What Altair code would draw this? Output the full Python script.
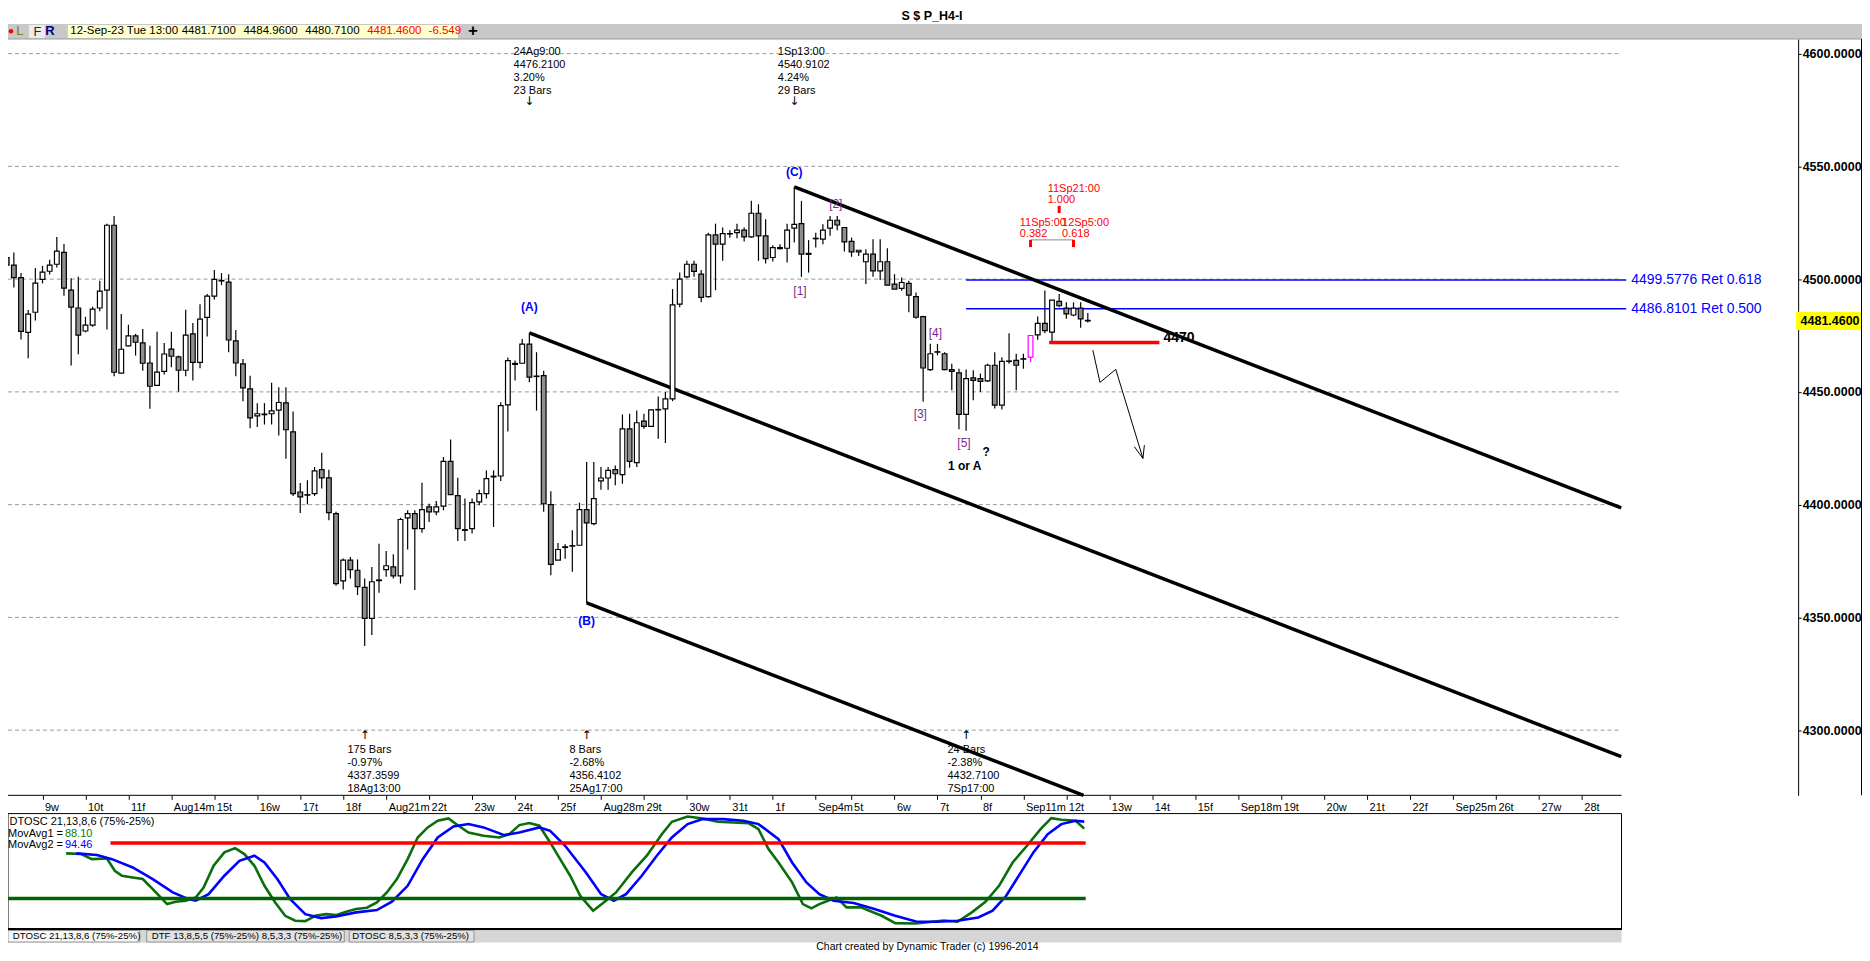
import altair as alt
import pandas as pd

FONT = "Liberation Sans"
W, H = 1858, 945

# ---------------- data ----------------
opens = [4509.6, 4506.2, 4500.7, 4476.4, 4485.3, 4499.9, 4503.5, 4506.6, 4511.9, 4495.1,
         4487.2, 4477.0, 4479.6, 4487.2, 4495.1, 4523.9, 4458.3, 4470.4, 4474.8, 4471.7,
         4462.8, 4452.9, 4459.1, 4469.0, 4465.5, 4459.6, 4475.7, 4463.1, 4483.0, 4492.5,
         4499.2, 4498.7, 4472.6, 4462.4, 4451.3, 4439.4, 4440.1, 4440.3, 4441.9, 4445.1,
         4432.3, 4405.6, 4404.2, 4404.9, 4415.5, 4411.9, 4396.0, 4366.2, 4375.4, 4370.9,
         4363.3, 4349.6, 4366.3, 4371.2, 4372.4, 4368.4, 4394.1, 4396.0, 4389.4, 4399.0,
         4396.8, 4399.3, 4419.2, 4404.0, 4388.6, 4389.4, 4401.2, 4404.9, 4412.3, 4412.7,
         4444.2, 4462.2, 4462.7, 4471.2, 4457.0, 4457.2, 4400.0, 4375.4, 4381.0, 4381.6,
         4382.0, 4397.8, 4391.6, 4410.5, 4411.8, 4415.5, 4413.3, 4433.6, 4418.6, 4437.0,
         4434.7, 4442.0, 4442.5, 4446.9, 4488.9, 4501.0, 4506.6, 4502.2, 4492.2, 4519.6,
         4515.5, 4520.0, 4520.6, 4521.7, 4518.7, 4529.2, 4519.2, 4509.6, 4513.5, 4513.7,
         4522.6, 4524.6, 4511.0, 4517.9, 4517.7, 4522.6, 4526.1, 4522.9, 4516.7, 4512.1,
         4507.7, 4511.1, 4503.7, 4507.7, 4497.8, 4495.9, 4498.1, 4492.2, 4483.4, 4459.9,
         4467.6, 4466.9, 4459.9, 4458.4, 4440.0, 4456.2, 4455.9, 4454.9, 4461.8, 4444.1,
         4463.5, 4464.0, 4464.5, 4465.4, 4475.3, 4480.4, 4476.5, 4490.1, 4487.1, 4484.1,
         4487.1, 4481.71]
highs = [4514.7, 4511.8, 4502.7, 4486.3, 4504.9, 4505.9, 4508.6, 4518.7, 4515.6, 4500.4,
         4501.0, 4483.3, 4487.8, 4499.3, 4524.5, 4528.0, 4484.5, 4479.8, 4475.7, 4477.9,
         4470.5, 4476.7, 4471.7, 4476.7, 4466.1, 4486.4, 4480.5, 4488.9, 4493.4, 4504.0,
         4502.7, 4502.2, 4477.4, 4464.6, 4457.2, 4445.0, 4445.0, 4454.0, 4452.1, 4452.1,
         4441.3, 4409.6, 4410.8, 4416.7, 4423.0, 4415.5, 4396.8, 4376.1, 4376.8, 4375.7,
         4367.3, 4372.4, 4382.7, 4379.4, 4378.0, 4394.2, 4397.5, 4397.5, 4409.7, 4400.4,
         4401.6, 4421.1, 4428.9, 4411.9, 4402.7, 4402.7, 4406.6, 4415.2, 4415.2, 4445.4,
         4465.3, 4463.9, 4473.5, 4476.21, 4467.6, 4459.4, 4405.9, 4383.0, 4382.4, 4388.6,
         4400.9, 4418.9, 4418.9, 4416.7, 4416.7, 4417.4, 4440.0, 4440.3, 4441.7, 4440.3,
         4442.2, 4447.9, 4449.9, 4495.6, 4502.9, 4508.1, 4508.1, 4504.0, 4520.6, 4524.6,
         4522.9, 4521.7, 4524.6, 4522.9, 4534.7, 4533.2, 4526.5, 4515.0, 4515.5, 4524.6,
         4540.91, 4534.7, 4517.3, 4520.6, 4524.3, 4528.0, 4528.0, 4522.9, 4518.4, 4512.8,
         4513.3, 4517.7, 4517.7, 4513.7, 4502.2, 4500.7, 4499.3, 4494.1, 4483.8, 4471.3,
         4471.3, 4467.6, 4462.5, 4460.3, 4459.9, 4459.6, 4458.1, 4462.5, 4467.6, 4465.4,
         4476.0, 4466.9, 4466.9, 4475.0, 4483.4, 4494.9, 4490.7, 4493.4, 4489.7, 4489.7,
         4489.7, 4484.96]
lows = [4505.5, 4496.3, 4473.2, 4464.9, 4481.6, 4498.1, 4502.1, 4505.2, 4492.6, 4461.7,
        4466.7, 4476.4, 4478.9, 4485.7, 4477.7, 4456.9, 4458.3, 4470.2, 4466.1, 4459.4,
        4442.5, 4452.9, 4457.7, 4460.9, 4450.1, 4456.9, 4455.0, 4460.5, 4474.6, 4491.0,
        4497.3, 4467.6, 4456.9, 4445.9, 4433.9, 4434.4, 4435.5, 4435.5, 4430.7, 4420.4,
        4403.8, 4396.3, 4400.1, 4403.8, 4407.1, 4393.1, 4364.0, 4362.4, 4367.3, 4359.9,
        4337.36, 4342.2, 4360.9, 4368.0, 4367.3, 4365.0, 4380.1, 4362.1, 4387.5, 4392.3,
        4395.3, 4397.5, 4404.4, 4383.9, 4383.9, 4387.2, 4399.7, 4402.7, 4390.1, 4410.5,
        4432.4, 4455.0, 4462.4, 4454.3, 4441.7, 4396.8, 4368.7, 4375.4, 4376.0, 4370.2,
        4382.0, 4356.41, 4390.9, 4406.6, 4406.6, 4408.6, 4409.3, 4416.4, 4416.7, 4433.6,
        4434.4, 4429.2, 4427.3, 4445.9, 4487.5, 4500.4, 4501.0, 4489.7, 4491.9, 4495.1,
        4508.1, 4518.4, 4518.1, 4516.7, 4518.4, 4508.1, 4506.9, 4507.8, 4513.3, 4507.4,
        4516.2, 4501.0, 4502.9, 4514.0, 4515.5, 4519.2, 4521.7, 4512.2, 4509.9, 4510.3,
        4497.8, 4501.0, 4499.6, 4497.3, 4495.6, 4494.8, 4485.3, 4482.4, 4445.6, 4459.3,
        4466.2, 4459.6, 4450.7, 4433.4, 4432.71, 4446.3, 4450.0, 4454.4, 4442.6, 4442.2,
        4462.5, 4450.7, 4460.3, 4463.2, 4473.1, 4476.0, 4472.1, 4487.5, 4482.4, 4483.5,
        4478.4, 4480.71]
closes = [4506.2, 4500.7, 4476.8, 4484.5, 4498.2, 4503.1, 4506.2, 4512.4, 4496.0, 4487.6,
          4475.2, 4479.6, 4486.7, 4494.7, 4523.9, 4458.7, 4468.9, 4474.8, 4472.0, 4462.7,
          4452.5, 4458.8, 4466.8, 4465.8, 4459.6, 4475.2, 4463.1, 4482.3, 4492.5, 4499.9,
          4499.4, 4473.0, 4462.8, 4451.8, 4438.5, 4440.3, 4439.9, 4441.6, 4445.3, 4433.2,
          4404.9, 4403.4, 4404.4, 4415.0, 4411.9, 4396.5, 4365.0, 4375.4, 4371.2, 4363.6,
          4349.6, 4365.8, 4366.6, 4372.9, 4368.4, 4393.4, 4396.0, 4389.4, 4397.8, 4396.8,
          4399.0, 4419.2, 4404.4, 4389.4, 4388.9, 4400.9, 4404.9, 4411.5, 4412.6, 4443.9,
          4463.9, 4462.6, 4471.2, 4456.5, 4456.8, 4400.4, 4373.5, 4380.1, 4381.3, 4381.8,
          4397.8, 4391.9, 4402.7, 4411.8, 4415.2, 4413.7, 4433.6, 4419.2, 4436.3, 4434.7,
          4442.0, 4442.2, 4446.9, 4488.6, 4500.0, 4506.6, 4503.4, 4491.9, 4519.6, 4515.5,
          4520.2, 4520.2, 4521.7, 4518.7, 4529.2, 4519.2, 4509.1, 4514.0, 4514.0, 4521.7,
          4524.3, 4511.1, 4511.4, 4518.1, 4521.7, 4526.1, 4524.0, 4516.5, 4512.1, 4512.8,
          4511.1, 4503.7, 4507.7, 4497.3, 4495.6, 4498.5, 4492.9, 4483.1, 4460.6, 4466.9,
          4467.8, 4459.9, 4459.1, 4440.0, 4455.9, 4455.1, 4454.7, 4461.8, 4444.1, 4463.5,
          4463.7, 4461.8, 4464.7, 4475.0, 4480.4, 4477.2, 4490.7, 4488.2, 4484.6, 4487.1,
          4482.4, 4481.46]
highlight_bar = 143  # magenta candle

# date axis: first bar of each day and its label
day_first_bar = [5, 11, 17, 23, 29, 35, 41, 47, 53, 59, 65, 71, 77, 83, 89, 95, 101, 107,
                 113, 118, 124, 130, 136, 142, 148, 154, 160, 166, 172, 178, 184, 190, 196,
                 202, 208, 214, 220]
day_labels = ["9w", "10t", "11f", "Aug14m", "15t", "16w", "17t", "18f", "Aug21m", "22t",
              "23w", "24t", "25f", "Aug28m", "29t", "30w", "31t", "1f", "Sep4m", "5t", "6w",
              "7t", "8f", "Sep11m", "12t", "13w", "14t", "15f", "Sep18m", "19t", "20w",
              "21t", "22f", "Sep25m", "26t", "27w", "28t"]
price_ticks = [4300, 4350, 4400, 4450, 4500, 4550, 4600]
last_price = 4481.46

# channel lines (bar index, price) -> (bar index, price)
chan_x1 = [110, 73, 81]
chan_p1 = [4540.91, 4476.21, 4356.41]
chan_x2 = [225.5, 225.5, 150.4]
chan_p2 = [4398.6, 4288.3, 4271.1]

# retracement lines
ret_price = [4499.5776, 4486.8101]
ret_label = ["4499.5776 Ret 0.618", "4486.8101 Ret 0.500"]
ret_from, ret_to = 134, 226.2

# support line "4470"
sup_from, sup_to, sup_price = 145.6, 161.0, 4471.9

# projected path arrow
arrow_x = [151.7, 152.7, 154.9, 158.7]
arrow_p = [4468.5, 4454.2, 4460.0, 4420.5]
head_x = [157.5, 158.9]
head_p = [4425.7, 4426.4]

# swing annotations
top_ann_x = [70.8, 107.7]
top_ann_arrow_x = [73, 110]
top_ann_text = ["24Ag9:00\n4476.2100\n3.20%\n23 Bars", "1Sp13:00\n4540.9102\n4.24%\n29 Bars"]
bot_ann_x = [47.6, 78.6, 131.4]
bot_ann_arrow_x = [50, 81, 134]
bot_ann_text = ["175 Bars\n-0.97%\n4337.3599\n18Ag13:00", "8 Bars\n-2.68%\n4356.4102\n25Ag17:00",
                "24 Bars\n-2.38%\n4432.7100\n7Sp17:00"]

# wave labels
wave_blue = ["(A)", "(B)", "(C)"]
wave_blue_x = [73, 81, 110]
wave_blue_p = [4487.5, 4348.5, 4547.7]
wave_sub = ["[1]", "[2]", "[3]", "[4]", "[5]"]
wave_sub_x = [110.8, 115.8, 127.6, 129.7, 133.7]
wave_sub_p = [4494.6, 4533.4, 4440.4, 4476.3, 4427.2]
wave_note = ["?", "1 or A"]
wave_note_x = [136.8, 133.8]
wave_note_p = [4423.2, 4417.1]

# time targets
time_text = ["11Sp21:00\n1.000", "11Sp5:00\n0.382", "12Sp5:00\n0.618"]
time_text_x = [145.4, 141.5, 147.4]
time_text_p = [4542.8, 4527.6, 4527.6]
time_bar = [147, 143, 149]
time_top = [4532.5, 4517.4, 4517.4]
time_bot = [4529.3, 4514.2, 4514.2]

# oscillator DTOSC 21,13,8,6
osc_fast_x = [8.3, 10.4, 11.9, 14.0, 15.1, 16.1, 17.6, 19.0, 20.4, 21.5, 22.4, 23.6, 25.0, 26.4,
              27.5, 28.9, 30.4, 31.9, 33.2, 34.6, 36.0, 37.5, 38.9, 40.3, 41.7, 43.1, 44.6, 46.0,
              47.4, 48.8, 50.3, 51.7, 53.1, 54.5, 56.0, 57.4, 58.8, 60.2, 61.7, 63.1, 64.5, 66.6,
              68.8, 70.2, 71.6, 73.0, 74.4, 75.9, 77.3, 78.7, 80.1, 81.9, 83.3, 85.1, 87.3, 89.4,
              91.5, 92.9, 95.1, 97.2, 99.3, 101.5, 103.6, 105.0, 106.4, 107.8, 109.7, 111.2, 112.4,
              113.5, 115.9, 117.3, 119.3, 122.2, 124.1, 127.0, 130.9, 132.8, 134.8, 136.7, 138.6,
              140.5, 142.5, 144.4, 145.9, 147.3, 149.3, 150.5]
osc_fast_v = [65.7, 65.1, 60.5, 61.1, 50.0, 45.5, 44.0, 42.5, 33.4, 25.9, 19.9, 22.0, 22.9, 25.9,
              34.9, 54.5, 66.6, 70.5, 65.1, 54.5, 36.4, 21.4, 9.3, 4.8, 4.5, 9.3, 10.8, 9.9,
              13.0, 15.4, 16.6, 21.4, 30.4, 42.5, 60.5, 80.1, 89.2, 95.2, 97.3, 90.7, 84.6, 81.6,
              80.1, 83.1, 91.3, 93.1, 90.7, 75.6, 60.5, 45.5, 27.4, 13.9, 20.8, 30.4, 48.5, 63.6,
              83.1, 94.3, 99.1, 97.3, 94.3, 93.7, 93.1, 87.6, 69.6, 57.5, 39.5, 19.9, 16.0,
              19.9, 25.9, 16.9, 16.9, 9.3, 2.7, 2.4, 5.1, 3.9, 12.4, 22.0, 36.4,
              57.5, 72.6, 87.6, 97.6, 96.1, 95.2, 88.1]
osc_slow_x = [9.7, 12.6, 14.7, 17.6, 20.4, 23.2, 25.4, 26.4, 28.2, 30.4, 32.5, 34.6, 36.0, 37.8,
              39.6, 41.7, 43.9, 46.0, 48.8, 51.7, 53.8, 56.0, 58.1, 60.2, 62.4, 64.5, 66.6, 69.5,
              71.6, 74.4, 75.9, 78.0, 80.9, 83.0, 84.8, 86.5, 88.7, 90.8, 92.9, 95.1, 97.2, 100.1,
              102.9, 105.0, 107.8, 109.7, 111.7, 113.5, 115.5, 118.3, 121.2, 124.1, 127.0, 129.9,
              132.8, 135.7, 137.7, 139.6, 141.5, 143.4, 145.4, 147.3, 149.3, 150.5]
osc_slow_v = [65.7, 64.2, 60.5, 53.0, 42.5, 30.4, 24.4, 22.9, 28.9, 45.5, 59.0, 63.6, 57.5, 42.5,
              24.4, 10.8, 7.2, 8.7, 12.4, 14.5, 22.0, 36.4, 60.5, 80.1, 90.1, 92.2, 89.2, 82.2,
              84.6, 89.2, 86.1, 72.6, 48.5, 28.9, 22.9, 28.9, 45.5, 63.6, 80.1, 92.2, 96.7, 96.7,
              95.2, 92.2, 78.6, 57.5, 39.5, 28.9, 22.9, 20.8, 15.4, 9.3, 4.2, 3.9,
              4.8, 7.8, 13.9, 27.4, 47.0, 66.6, 83.1, 92.2, 95.2, 94.46]
osc_levels = [75, 25]
osc_level_from = [14.5, -0.2]
osc_level_to = [150.7, 150.7]

# ---------------- scales & axes ----------------
XS = alt.Scale(domain=[0.1812, 259.13], nice=False, zero=False)
PS = alt.Scale(domain=[4271.1, 4606.5], range=[788.0, 30.0], nice=False, zero=False)
OS = alt.Scale(domain=[-3.3, 101.7], range=[922.7, 806.3], nice=False, zero=False)

label_expr = ("[" + ",".join("'%s'" % s for s in day_labels) + "][indexof(["
              + ",".join(str(v) for v in day_first_bar) + "], datum.value)]")
XAXIS = alt.Axis(orient="bottom", offset=-(H - 788.0), values=day_first_bar, labelExpr=label_expr,
                 labelAlign="left", labelOffset=2, labelBaseline="top", labelPadding=2,
                 tickSize=4, tickColor="black", tickWidth=1, domain=False, grid=False,
                 labelFont=FONT, labelFontSize=11, labelColor="black", title=None,
                 labelOverlap=False, labelFlush=False)
PAXIS = alt.Axis(orient="right", offset=-(W - 1794.0), values=price_ticks, format=".4f",
                 grid=False, domain=True, domainColor="black", domainWidth=1, tickSize=3,
                 tickColor="black", labelFont=FONT, labelFontSize=12.5, labelFontWeight="bold",
                 labelColor="black", labelPadding=1, title=None, labelOverlap=False,
                 labelFlush=False)


def X(f):
    return alt.X(f, type="quantitative", scale=XS, axis=XAXIS)


def P(f):
    return alt.Y(f, type="quantitative", scale=PS, axis=PAXIS)


def O(f):
    return alt.Y(f, type="quantitative", scale=OS, axis=None)


# ---------------- tables ----------------
candles = pd.DataFrame({"i": list(range(len(opens))), "o": opens, "h": highs, "l": lows, "c": closes})
grid = pd.DataFrame({"p": price_ticks, "xa": 0.1812, "xb": 225.5})
chan = pd.DataFrame({"xa": chan_x1, "pa": chan_p1, "xb": chan_x2, "pb": chan_p2})
rets = pd.DataFrame({"p": ret_price, "t": ret_label, "xa": ret_from, "xb": ret_to})
arrow = pd.DataFrame({"x": arrow_x, "p": arrow_p, "k": list(range(len(arrow_x)))})
heads = pd.DataFrame({"xa": head_x, "pa": head_p, "xb": arrow_x[-1], "pb": arrow_p[-1]})
top_ann = pd.DataFrame({"x": top_ann_x, "ax": top_ann_arrow_x, "t": top_ann_text})
bot_ann = pd.DataFrame({"x": bot_ann_x, "ax": bot_ann_arrow_x, "t": bot_ann_text})
wb = pd.DataFrame({"x": wave_blue_x, "p": wave_blue_p, "t": wave_blue})
ws = pd.DataFrame({"x": wave_sub_x, "p": wave_sub_p, "t": wave_sub})
wn = pd.DataFrame({"x": wave_note_x, "p": wave_note_p, "t": wave_note})
tt = pd.DataFrame({"x": time_text_x, "p": time_text_p, "t": time_text})
tb = pd.DataFrame({"x": time_bar, "pa": time_top, "pb": time_bot})
fast = pd.DataFrame({"x": osc_fast_x, "v": osc_fast_v})
slow = pd.DataFrame({"x": osc_slow_x, "v": osc_slow_v})
lev = pd.DataFrame({"v": osc_levels, "xa": osc_level_from, "xb": osc_level_to,
                    "name": ["upper", "lower"]})
lastp = pd.DataFrame({"p": [last_price], "t": ["%.4f" % last_price]})
dummy = pd.DataFrame({"d": [0]})


def ctext(txt, x, y, size=11, color="black", weight="normal", align="left", font=FONT):
    return alt.Chart(dummy).mark_text(text=txt, fontSize=size, color=color, fontWeight=weight,
                                      align=align, baseline="middle", font=font).encode(
        x=alt.value(x), y=alt.value(y))


def crect(x, x2, y, y2, fill, stroke=None, sw=1.0):
    kw = dict(fill=fill)
    if stroke:
        kw.update(stroke=stroke, strokeWidth=sw)
    return alt.Chart(dummy).mark_rect(**kw).encode(
        x=alt.value(x), x2=alt.value(x2), y=alt.value(y), y2=alt.value(y2))


def crule(x, x2, y, y2, color="black", sw=1.0):
    return alt.Chart(dummy).mark_rule(color=color, strokeWidth=sw).encode(
        x=alt.value(x), x2=alt.value(x2), y=alt.value(y), y2=alt.value(y2))


# ---------------- price panel ----------------
grid_l = alt.Chart(grid).mark_rule(color="#9A9A9A", strokeDash=[4, 3], strokeWidth=1).encode(
    x=X("xa"), x2="xb", y=P("p"))
ret_l = alt.Chart(rets).mark_rule(color="#0000FF", strokeWidth=1.5).encode(
    x=X("xa"), x2="xb", y=P("p"))
ret_t = alt.Chart(rets).mark_text(align="left", baseline="middle", font=FONT, fontSize=14,
                                   color="#0000FF", dx=5).encode(x=X("xb"), y=P("p"), text="t")
chan_l = alt.Chart(chan).mark_rule(color="black", strokeWidth=3.5).encode(
    x=X("xa"), x2="xb", y=P("pa"), y2="pb")
wick = alt.Chart(candles).mark_rule(strokeWidth=1.2).encode(
    x=X("i"), y=P("l"), y2="h",
    color=alt.condition("datum.i == %d" % highlight_bar, alt.value("#FF00FF"), alt.value("black")))
body = alt.Chart(candles).transform_calculate(
    x0="datum.i - 0.33", x1="datum.i + 0.33").mark_rect(strokeWidth=1.2).encode(
    x=X("x0:Q"), x2="x1:Q", y=P("o"), y2="c",
    fill=alt.condition("datum.c >= datum.o", alt.value("white"), alt.value("#8E8E8E")),
    stroke=alt.condition("datum.i == %d" % highlight_bar, alt.value("#FF00FF"), alt.value("black")))
sup_l = alt.Chart(pd.DataFrame({"xa": [sup_from], "xb": [sup_to], "p": [sup_price]})).mark_rule(
    color="#FF0000", strokeWidth=3.5).encode(x=X("xa"), x2="xb", y=P("p"))
sup_t = alt.Chart(pd.DataFrame({"x": [sup_to], "p": [sup_price], "t": ["4470"]})).mark_text(
    align="left", baseline="bottom", font=FONT, fontSize=14, fontWeight="bold", color="black",
    dx=4, dy=3).encode(x=X("x"), y=P("p"), text="t")
arrow_l = alt.Chart(arrow).mark_line(color="black", strokeWidth=1).encode(
    x=X("x"), y=P("p"), order="k:Q")
head_l = alt.Chart(heads).mark_rule(color="black", strokeWidth=1).encode(
    x=X("xa"), x2="xb", y=P("pa"), y2="pb")
tb_l = alt.Chart(tb).mark_rule(color="#FF0000", strokeWidth=3).encode(x=X("x"), y=P("pa"), y2="pb")
tconn = alt.Chart(pd.DataFrame({"xa": [time_bar[1]], "xb": [time_bar[2]], "p": [time_top[1]]})).mark_rule(
    color="#8A8A8A", strokeWidth=1).encode(x=X("xa"), x2="xb", y=P("p"))
tt_t = alt.Chart(tt).mark_text(align="left", baseline="top", font=FONT, fontSize=11,
                               color="#FF0000", lineBreak="\n", lineHeight=11).encode(
    x=X("x"), y=P("p"), text="t")
top_t = alt.Chart(top_ann).transform_calculate(p="4603.3").mark_text(
    align="left", baseline="top", font=FONT, fontSize=11, color="black", lineBreak="\n",
    lineHeight=13).encode(x=X("x"), y=P("p:Q"), text="t")
top_a = alt.Chart(top_ann).transform_calculate(p="4579.1", s="'\u2193'").mark_text(
    align="center", baseline="middle", font="DejaVu Sans", fontSize=12, color="black").encode(
    x=X("ax"), y=P("p:Q"), text="s:N")
bot_t = alt.Chart(bot_ann).transform_calculate(p="4293.9").mark_text(
    align="left", baseline="top", font=FONT, fontSize=11, color="black", lineBreak="\n",
    lineHeight=13).encode(x=X("x"), y=P("p:Q"), text="t")
bot_a = alt.Chart(bot_ann).transform_calculate(p="4297.8", s="'\u2191'").mark_text(
    align="center", baseline="middle", font="DejaVu Sans", fontSize=12, color="black").encode(
    x=X("ax"), y=P("p:Q"), text="s:N")
wb_t = alt.Chart(wb).mark_text(align="center", baseline="middle", font=FONT, fontSize=12,
                               fontWeight="bold", color="#0000FF").encode(x=X("x"), y=P("p"), text="t")
ws_t = alt.Chart(ws).mark_text(align="center", baseline="middle", font=FONT, fontSize=12,
                               color="#7E2A8E").encode(x=X("x"), y=P("p"), text="t")
wn_t = alt.Chart(wn).mark_text(align="center", baseline="middle", font=FONT, fontSize=12,
                               fontWeight="bold", color="black").encode(x=X("x"), y=P("p"), text="t")
last_box = alt.Chart(lastp).transform_calculate(pa="datum.p + 4.1", pb="datum.p - 4.0").mark_rect(
    fill="#FFFF00").encode(x=alt.value(1792), x2=alt.value(1858), y=P("pa:Q"), y2="pb:Q")
last_t = alt.Chart(lastp).mark_text(align="center", baseline="middle", font=FONT, fontSize=12.5,
                                    fontWeight="bold", color="black").encode(
    x=alt.value(1826), y=P("p"), text="t")

price_panel = alt.layer(grid_l, ret_l, chan_l, wick, body, sup_l, arrow_l, head_l, tconn, tb_l,
                        tt_t, top_t, top_a, bot_t, bot_a, wb_t, ws_t, wn_t, ret_t, sup_t,
                        last_box, last_t)

# ---------------- oscillator panel ----------------
fast_l = alt.Chart(fast).mark_line(color="#0A6E0A", strokeWidth=2.6).encode(x=X("x"), y=O("v"))
slow_l = alt.Chart(slow).mark_line(color="#0000FF", strokeWidth=2.6).encode(x=X("x"), y=O("v"))
lev_l = alt.Chart(lev).mark_rule(strokeWidth=3.5).encode(
    x=X("xa"), x2="xb", y=O("v"),
    color=alt.Color("name:N", scale=alt.Scale(domain=["upper", "lower"],
                                              range=["#FF0000", "#006400"]), legend=None))
osc_panel = alt.layer(fast_l, slow_l, lev_l)

# ---------------- window chrome ----------------
chrome_bg = [
    crect(0, W, 0, 30, "white"),
    crect(0, W, 15, 29.5, "#C8C8C8"),
    crule(0, W, 30, 30, "#8C8C8C", 1),
    crect(21, 37, 16, 29, "#ECECEC"),
    crect(60, 451, 16, 29, "#FFFFCC"),
    crect(0, 1617, 806.3, 922.7, "white", "black", 1),
    crect(0, 1617, 923.5, 935.5, "#D6D6D6"),
    crect(0, 132, 923.5, 935, "#F7F7F7", "#808080", 0.8),
    crect(139, 337, 923.5, 935, "#E2E2E2", "#808080", 0.8),
    crect(342, 467, 923.5, 935, "#E2E2E2", "#808080", 0.8),
]
chrome_fg = [
    ctext("S $ P_H4-I", 926, 7.5, 12.5, weight="bold", align="center"),
    alt.Chart(dummy).mark_point(filled=True, color="#FF0000", size=22, opacity=1).encode(
        x=alt.value(3), y=alt.value(22.3)),
    ctext("L", 12, 22.3, 13, "#808000", align="center"),
    ctext("F", 29.5, 23, 13, "#800000", align="center"),
    ctext("R", 42, 22.3, 13, "#000080", weight="bold", align="center"),
    ctext("12-Sep-23 Tue 13:00", 62.4, 22.3, 11.5),
    ctext("4481.7100", 174, 22.3, 11.5),
    ctext("4484.9600", 236, 22.3, 11.5),
    ctext("4480.7100", 298, 22.3, 11.5),
    ctext("4481.4600", 360, 22.3, 11.5, "#FF0000"),
    ctext("-6.549", 421.5, 22.3, 11.5, "#FF0000"),
    ctext("+", 466, 22.3, 17, weight="bold", align="center"),
    crule(0, 1617, 788, 788, "black", 1),
    crule(1857.5, 1857.5, 30, 788, "black", 1),
    crule(0, 1617, 922, 922, "black", 2),
    ctext("DTOSC 21,13,8,6 (75%-25%)", 1.5, 814.7, 11),
    ctext("MovAvg1 =", 0, 826.3, 11),
    ctext("88.10", 57, 826.3, 11, "#0A7A0A"),
    ctext("MovAvg2 =", 0, 838.1, 11),
    ctext("94.46", 57, 838.1, 11, "#0000FF"),
    ctext("DTOSC 21,13,8,6 (75%-25%)", 4.8, 929.3, 9.7),
    ctext("DTF 13,8,5,5 (75%-25%) 8,5,3,3 (75%-25%)", 144, 929.3, 9.7),
    ctext("DTOSC 8,5,3,3 (75%-25%)", 345, 929.3, 9.7),
    ctext("Chart created by Dynamic Trader  (c) 1996-2014", 810, 940.5, 10.5),
]

chart = alt.layer(
    *chrome_bg, price_panel, osc_panel, *chrome_fg
).resolve_scale(y="independent").properties(
    width=W, height=H, autosize=alt.AutoSizeParams(type="none"), padding=0, background="white"
).configure_view(stroke=None)

chart.save("out.html", embed_options={"renderer": "svg", "actions": False})
